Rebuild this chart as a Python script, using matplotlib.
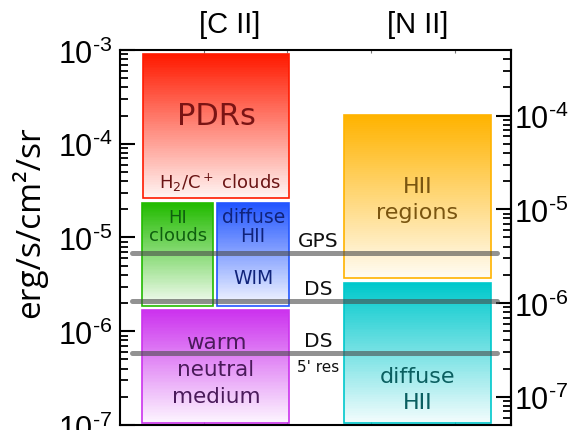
import numpy as np
import matplotlib
matplotlib.use('Agg')
import matplotlib.pyplot as plt
from matplotlib.colors import LinearSegmentedColormap
from matplotlib.patches import Rectangle
from matplotlib.ticker import FuncFormatter, FixedLocator, NullFormatter

plt.rcParams['mathtext.fontset'] = 'custom'
plt.rcParams['mathtext.rm'] = 'Liberation Sans'
plt.rcParams['mathtext.it'] = 'Liberation Sans:italic'

# [N II] intensities sit on the right axis, shifted by this factor
NII_SCALE = 2.0

# [C II] emission ranges (erg/s/cm2/sr)
cii_names = ['PDRs', 'HI clouds', 'diffuse HII', 'warm neutral medium']
cii_x0 = [0.27, 0.26, 1.16, 0.26]
cii_x1 = [2.02, 1.11, 2.02, 2.02]
cii_lo = [2.64e-5, 1.86e-6, 1.86e-6, 1.05e-7]
cii_hi = [9.07e-4, 2.33e-5, 2.33e-5, 1.69e-6]
cii_colors = ['#ff1a00', '#22bb00', '#2255ff', '#cc33ee']

# [N II] emission ranges (right axis units)
nii_names = ['HII regions', 'diffuse HII']
nii_x0 = [2.68, 2.68]
nii_x1 = [4.43, 4.43]
nii_lo = [1.85e-6, 5.2e-8]
nii_hi = [1.01e-4, 1.64e-6]
nii_colors = ['#ffb300', '#00c8cc']

# survey sensitivity levels
survey_names = ['GPS', 'DS', 'DS']
survey_levels = [6.84e-6, 2.10e-6, 5.86e-7]
survey_x = [0.14, 4.50]

yticks_left = [1e-7, 1e-6, 1e-5, 1e-4, 1e-3]
yticks_right = [1e-7, 1e-6, 1e-5, 1e-4]

HYPHEN = '\u2010'


def gradient_box(ax, x0, x1, lo, hi, color, n=80):
    cmap = LinearSegmentedColormap.from_list('fade', ['white', color])
    ys = np.geomspace(lo, hi, n + 1)
    c = np.linspace(0.05, 1.0, n)[:, None]
    ax.pcolormesh([x0, x1], ys, c, cmap=cmap, vmin=0, vmax=1,
                  shading='flat', zorder=1, rasterized=True)
    ax.add_patch(Rectangle((x0, lo), x1 - x0, hi - lo, fill=False,
                           edgecolor=color, lw=1.2, zorder=2))


def power_label(v, pos):
    # short hyphen in the exponent instead of the wide math minus
    e = int(round(np.log10(v)))
    sign = HYPHEN if e < 0 else ''
    return '$10^{' + sign + str(abs(e)) + '}$'


fig = plt.figure(figsize=(5.79, 4.31), dpi=100)
ax = fig.add_axes([0.2073, 0.0116, 0.6753, 0.8701])
ax.set_yscale('log')
ax.set_ylim(1e-7, 1e-3)
ax.set_xlim(0, 4.67)

for i in range(len(cii_names)):
    gradient_box(ax, cii_x0[i], cii_x1[i], cii_lo[i], cii_hi[i], cii_colors[i])
for i in range(len(nii_names)):
    gradient_box(ax, nii_x0[i], nii_x1[i], nii_lo[i] * NII_SCALE,
                 nii_hi[i] * NII_SCALE, nii_colors[i])

for lev in survey_levels:
    ax.plot(survey_x, [lev, lev], color='#4a4a4a', alpha=0.6, lw=3.6,
            solid_capstyle='round', zorder=3)

for name, lev in zip(survey_names, survey_levels):
    ax.annotate(name, (2.37, lev), xytext=(0, 5), textcoords='offset points',
                ha='center', va='baseline', fontsize=14.5, color='#111111',
                family='DejaVu Sans', zorder=4)
ax.annotate("5' res", (2.37, survey_levels[2]), xytext=(0, -10),
            textcoords='offset points', ha='center', va='center',
            fontsize=11, color='#111111', family='DejaVu Sans', zorder=4)

# box labels
kw = dict(ha='center', va='center', family='DejaVu Sans', zorder=4)
ax.text(1.147, 1.98e-4, 'PDRs', fontsize=22, color='#7a1414', **kw)
ax.text(1.19, 3.91e-5, r'H$_2$/C$^+$ clouds', fontsize=13, color='#6a1414',
        math_fontfamily='dejavusans', **kw)
ax.text(0.69, 1.33e-5, 'HI\nclouds', fontsize=13, color='#0f5f0f',
        linespacing=1.05, **kw)
ax.text(1.59, 1.33e-5, 'diffuse\nHII', fontsize=13.5, color='#10237a',
        linespacing=1.05, **kw)
ax.text(1.59, 3.70e-6, 'WIM', fontsize=13.5, color='#10237a', **kw)
ax.text(1.147, 3.96e-7, 'warm\nneutral\nmedium', fontsize=15.5, color='#4a1a5a',
        linespacing=1.45, **kw)
ax.text(3.55, 1.29e-5 * NII_SCALE, 'HII\nregions', fontsize=16, color='#7a5510',
        linespacing=1.4, **kw)
ax.text(3.55, 1.21e-7 * NII_SCALE, 'diffuse\nHII', fontsize=16, color='#0a5f60',
        linespacing=1.4, **kw)

# axes styling
for s in ax.spines.values():
    s.set_linewidth(1.5)
ax.yaxis.set_major_locator(FixedLocator(yticks_left))
ax.yaxis.set_major_formatter(FuncFormatter(power_label))
ax.yaxis.set_minor_formatter(NullFormatter())
ax.tick_params(axis='y', which='major', direction='in', length=11, width=1.5,
               pad=5.5, labelsize=22, left=True, right=False)
ax.tick_params(axis='y', which='minor', direction='in', length=6, width=1.3,
               left=True, right=False)
ax.set_xticks([1, 2, 3, 4])
ax.tick_params(axis='x', direction='in', length=2.5, width=0.8, top=True,
               bottom=True, labelbottom=False, color='#777777')

sec = ax.secondary_yaxis('right', functions=(lambda y: y / NII_SCALE,
                                             lambda y: y * NII_SCALE))
sec.yaxis.set_major_locator(FixedLocator(yticks_right))
sec.yaxis.set_major_formatter(FuncFormatter(power_label))
sec.yaxis.set_minor_formatter(NullFormatter())
sec.tick_params(axis='y', which='major', direction='in', length=11, width=1.5,
                pad=2, labelsize=22)
sec.tick_params(axis='y', which='minor', direction='in', length=6, width=1.3)
sec.spines['right'].set_linewidth(1.5)

trans = ax.get_xaxis_transform()
ax.text(1.315, 1.069, '[C II]', transform=trans, ha='center', va='center',
        fontsize=21, family='Liberation Sans')
ax.text(3.56, 1.069, '[N II]', transform=trans, ha='center', va='center',
        fontsize=21, family='Liberation Sans')

fig.text(0.05, 0.485, 'erg/s/cm²/sr', rotation=90, ha='center', va='center',
         fontsize=24, family='Open Sans')

fig.savefig('out.png', dpi=100)
